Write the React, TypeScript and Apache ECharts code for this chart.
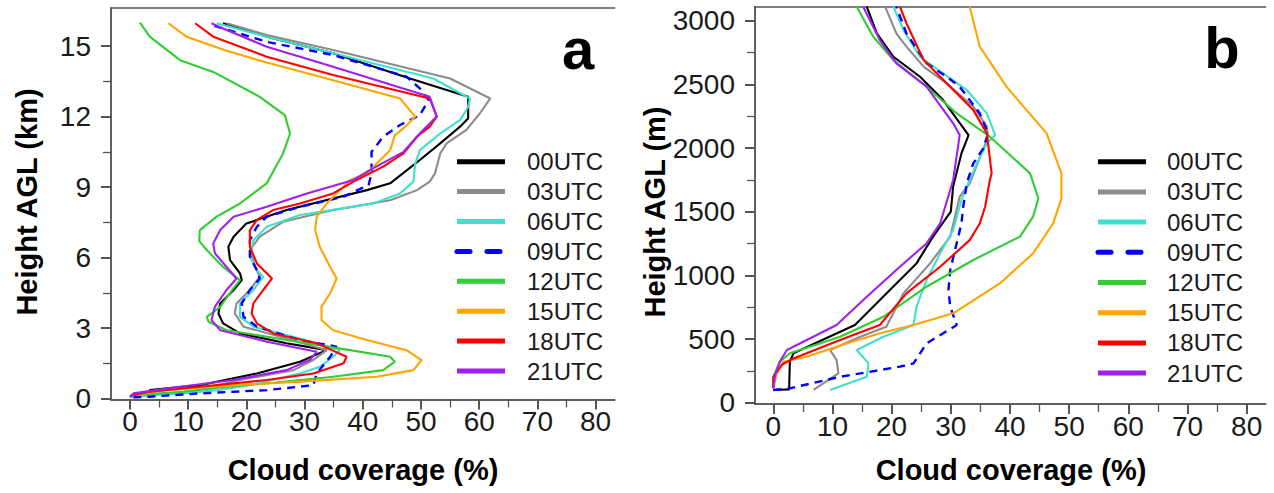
import React, { useEffect, useRef } from "react";
import * as echarts from "echarts";

// Sounding times and their line colours
const TIMES = ["00UTC", "03UTC", "06UTC", "09UTC", "12UTC", "15UTC", "18UTC", "21UTC"];
const COLORS = ["#000000", "#8c8c8c", "#40e0d0", "#0000ff", "#32cd32", "#ffa500", "#ff0000", "#a020f0"];

// Panel a: cloud coverage (%) vs height AGL (km), full troposphere
const a00: number[][] = [[0,0.08],[3.2,0.15],[3.4,0.36],[12.0,0.57],[21.8,1.07],[29.2,1.57],[33.8,2.06],[26.9,2.35],[18.9,2.77],[16.0,3.2],[15.2,3.62],[15.5,4.05],[17.8,4.62],[19.2,5.04],[18.9,5.33],[17.2,5.89],[16.9,6.46],[17.8,6.89],[20.0,7.45],[26.9,8.02],[40.7,8.87],[44.7,9.16],[49.8,10.15],[53.3,10.86],[56.7,11.57],[58.1,11.92],[58.1,12.84],[48.1,13.62],[34.9,14.69],[23.5,15.4],[16.0,15.97]];
const a03: number[][] = [[0,0.1],[2.5,0.18],[6.5,0.22],[11.0,0.32],[18.9,0.79],[28.1,1.21],[31.5,1.64],[33.8,2.06],[26.9,2.56],[19.5,3.06],[18.0,3.62],[18.3,4.05],[20.6,4.62],[22.3,5.18],[21.5,5.6],[20.6,6.32],[22.3,6.89],[26.3,7.52],[34.9,8.02],[44.7,8.44],[49.3,8.87],[51.5,9.23],[52.4,9.58],[53.3,10.43],[54.4,10.86],[57.8,11.43],[60.1,12.13],[61.9,12.77],[55.0,13.62],[34.9,14.83],[23.5,15.47],[16.6,15.97]];
const a06: number[][] = [[0,0.08],[9.2,0.22],[14.9,0.36],[20.6,0.57],[29.2,1.07],[32.6,1.35],[34.9,1.78],[36.1,2.06],[29.2,2.56],[21.2,3.06],[18.9,3.48],[18.9,4.05],[21.2,4.62],[22.9,5.18],[21.8,5.47],[20.6,6.04],[21.2,6.74],[23.5,7.31],[29.2,7.81],[41.8,8.3],[46.4,8.73],[48.7,9.23],[49.0,10.0],[49.8,10.57],[53.3,11.28],[56.7,11.85],[58.1,12.41],[58.4,12.77],[52.1,13.62],[34.9,14.69],[23.5,15.4],[14.9,15.97]];
const a09: number[][] = [[0.6,0.05],[3.4,0.08],[12.0,0.22],[23.5,0.36],[31.5,0.57],[32.1,1.07],[34.4,1.78],[35.5,2.21],[29.2,2.49],[21.8,3.06],[19.5,3.48],[19.2,4.05],[20.6,4.62],[22.3,5.11],[21.8,5.47],[20.6,6.04],[20.6,6.74],[21.8,7.31],[23.5,7.74],[29.2,8.16],[36.7,8.59],[41.0,9.09],[41.5,9.58],[41.5,10.5],[43.5,11.14],[46.4,11.64],[49.8,12.06],[51.3,12.7],[49.8,13.2],[47.5,13.7],[34.9,14.62],[23.5,15.18],[14.0,15.9]];
const a12: number[][] = [[0,0.08],[0.6,0.15],[9.2,0.29],[16.6,0.5],[24.6,0.67],[34.9,0.93],[43.5,1.21],[45.5,1.57],[44.7,1.78],[37.8,2.06],[26.9,2.49],[16.6,2.91],[13.5,3.27],[13.2,3.48],[15.5,3.9],[17.5,4.6],[18.9,5.04],[16.0,5.6],[13.2,6.32],[11.9,6.7],[12.0,7.17],[14.9,7.74],[18.9,8.3],[23.5,9.16],[26.3,10.43],[27.5,11.28],[26.6,12.06],[22.3,12.84],[14.3,13.9],[8.6,14.4],[3.4,15.4],[1.7,16.0]];
const a15: number[][] = [[0,0.1],[0.6,0.15],[6.3,0.36],[17.8,0.57],[29.2,0.72],[42.4,0.93],[48.7,1.21],[50.1,1.64],[47.5,2.06],[40.7,2.49],[34.9,2.91],[32.9,3.34],[32.9,3.91],[34.4,4.48],[35.5,5.11],[34.4,5.6],[32.6,6.46],[31.8,7.17],[32.1,7.74],[33.8,8.3],[36.1,8.87],[37.8,9.3],[40.7,9.58],[43.0,10.15],[44.7,10.57],[45.5,11.2],[47.3,11.57],[49.0,12.0],[46.4,12.77],[34.9,13.55],[23.5,14.3],[16.6,14.8],[9.7,15.4],[6.6,15.97]];
const a18: number[][] = [[0,0.1],[0.6,0.15],[3.4,0.29],[12.0,0.5],[23.5,0.79],[31.5,1.07],[36.7,1.5],[37.2,1.78],[32.1,2.35],[24.6,2.77],[21.8,3.2],[20.9,3.62],[21.2,4.05],[22.9,4.62],[24.4,5.11],[23.5,5.33],[21.8,5.75],[20.6,6.46],[20.6,7.17],[21.8,7.6],[24.6,8.02],[29.2,8.3],[34.9,8.73],[38.4,9.23],[43.5,9.87],[47.0,10.43],[49.3,11.14],[51.5,11.57],[52.7,12.0],[51.5,12.77],[34.9,13.77],[23.5,14.55],[14.3,15.4],[11.2,15.97]];
const a21: number[][] = [[0,0.08],[0.6,0.22],[6.3,0.43],[17.8,0.79],[26.9,1.21],[30.9,1.64],[32.1,1.99],[23.5,2.42],[15.5,2.91],[14.0,3.34],[14.6,3.91],[16.6,4.62],[18.3,5.11],[16.6,5.6],[14.6,6.18],[14.3,6.6],[15.5,7.17],[17.8,7.74],[23.5,8.16],[30.4,8.73],[38.4,9.3],[41.2,9.72],[47.0,10.5],[49.8,11.28],[52.7,12.0],[51.5,12.84],[34.9,14.12],[23.5,14.97],[16.0,15.75],[14.0,15.97]];

// Panel b: cloud coverage (%) vs height AGL (m), lowest 3 km
const b00: number[][] = [[0,100],[2.7,105],[2.7,152],[2.8,322],[3.4,388],[13.8,610],[19.7,885],[24.2,1094],[27.0,1304],[30.0,1500],[30.4,1700],[31.8,1958],[33.0,2102],[28.7,2377],[24.8,2560],[20.3,2717],[17.5,2900],[15.8,3110]];
const b03: number[][] = [[6.8,100],[11.0,230],[10.7,335],[9.6,414],[14.7,518],[19.1,597],[22.0,859],[26.5,1094],[29.9,1304],[31.5,1618],[33.2,1723],[36.3,2089],[36.1,2168],[33.8,2325],[29.3,2508],[25.4,2639],[22.5,2796],[20.8,2900],[18.9,3110]];
const b06: number[][] = [[9.6,100],[15.8,204],[16.1,309],[14.1,414],[18.6,518],[23.7,610],[24.2,754],[25.9,963],[28.2,1173],[30.4,1356],[31.8,1592],[33.2,1749],[34.4,1880],[36.1,2036],[37.5,2102],[36.1,2272],[32.7,2456],[28.7,2586],[24.8,2717],[22.0,2927],[20.3,3110]];
const b09: number[][] = [[0,100],[2.8,113],[11.3,204],[21.4,283],[23.7,309],[25.9,466],[31.0,610],[29.9,754],[29.6,885],[29.9,1042],[31.8,1408],[32.1,1539],[32.7,1723],[33.8,1880],[35.5,1998],[36.3,2115],[34.9,2272],[31.5,2482],[29.3,2560],[25.9,2665],[22.5,2900],[20.8,3110]];
const b12: number[][] = [[0,113],[0,204],[1.1,322],[2.8,388],[11.3,518],[18.6,675],[25.9,911],[33.8,1121],[41.7,1304],[43.9,1461],[44.8,1605],[43.4,1801],[36.6,2089],[31.0,2272],[25.9,2482],[20.3,2691],[16.9,2874],[14.1,3110]];
const b15: number[][] = [[0,113],[0.6,230],[1.7,322],[5.6,361],[12.4,466],[18.0,545],[23.7,610],[30.4,702],[38.3,937],[43.9,1173],[47.3,1408],[48.7,1605],[48.7,1801],[46.2,2115],[39.4,2482],[34.9,2796],[33.2,3110]];
const b18: number[][] = [[0,113],[0,204],[1.5,300],[3.5,350],[11.3,492],[18.0,610],[22.5,859],[28.2,1068],[33.2,1277],[34.9,1408],[35.8,1539],[36.6,1749],[36.9,1801],[36.3,2036],[36.1,2115],[33.8,2298],[29.3,2508],[25.4,2691],[22.5,2980],[21.4,3110]];
const b21: number[][] = [[0,113],[0.3,217],[1.1,322],[2.3,414],[10.7,610],[15.8,832],[21.4,1068],[25.9,1251],[28.2,1408],[30.4,1749],[31.5,2102],[30.4,2194],[25.9,2482],[20.8,2665],[18.0,2848],[15.2,3110]];

const PANEL_A = [a00, a03, a06, a09, a12, a15, a18, a21];
const PANEL_B = [b00, b03, b06, b09, b12, b15, b18, b21];

// Tick positions
const X_TICKS = [0, 10, 20, 30, 40, 50, 60, 70, 80];
const X_MINOR = [5, 15, 25, 35, 45, 55, 65, 75];
const KM_TICKS = [0, 3, 6, 9, 12, 15];
const KM_MINOR = [1.5, 4.5, 7.5, 10.5, 13.5];
const M_TICKS = [0, 500, 1000, 1500, 2000, 2500, 3000];
const M_MINOR = [250, 750, 1250, 1750, 2250, 2750];

const FONT = "'Liberation Sans', Arial, Helvetica, sans-serif";
const AXIS_COLOR = "#555555";
const TEXT_COLOR = "#1a1a1a";
const TICK_FONT = 28;
const plain = (v: number) => String(v);
const axisLine = { show: true, onZero: false, lineStyle: { color: AXIS_COLOR, width: 1.5 } };

function xAxesFor(gridIndex: number, min: number, max: number) {
  return [
    {
      type: "value", gridIndex, min, max, position: "bottom",
      axisLine,
      axisTick: { show: true, customValues: X_TICKS, length: 10, lineStyle: { color: AXIS_COLOR, width: 2 } },
      axisLabel: { show: true, customValues: X_TICKS, formatter: plain, fontSize: TICK_FONT, color: TEXT_COLOR, fontFamily: FONT, margin: 8 },
      splitLine: { show: false },
    },
    {
      // minor ticks, drawn on the same bottom edge
      type: "value", gridIndex, min, max, position: "bottom",
      axisLine,
      axisTick: { show: true, customValues: X_MINOR, length: 8, lineStyle: { color: AXIS_COLOR, width: 1.3 } },
      axisLabel: { show: false },
      splitLine: { show: false },
    },
    {
      type: "value", gridIndex, min, max, position: "top",
      axisLine,
      axisTick: { show: false }, axisLabel: { show: false }, splitLine: { show: false },
    },
  ];
}

function yAxesFor(gridIndex: number, min: number, max: number, ticks: number[], minor: number[]) {
  return [
    {
      type: "value", gridIndex, min, max, position: "left",
      axisLine,
      axisTick: { show: true, customValues: ticks, length: 10, lineStyle: { color: AXIS_COLOR, width: 2 } },
      axisLabel: { show: true, customValues: ticks, formatter: plain, fontSize: TICK_FONT, color: TEXT_COLOR, fontFamily: FONT, margin: 20 },
      splitLine: { show: false },
    },
    {
      // minor ticks, drawn on the same left edge
      type: "value", gridIndex, min, max, position: "left",
      axisLine,
      axisTick: { show: true, customValues: minor, length: 8, lineStyle: { color: AXIS_COLOR, width: 1.3 } },
      axisLabel: { show: false },
      splitLine: { show: false },
    },
  ];
}

function seriesFor(panel: number[][][], xAxisIndex: number, yAxisIndex: number) {
  return panel.map((data, i) => ({
    type: "line",
    name: TIMES[i],
    xAxisIndex,
    yAxisIndex,
    data,
    symbol: "none",
    smooth: false,
    lineStyle: {
      color: COLORS[i],
      width: i === 3 ? 2.4 : 2.1,
      type: i === 3 ? [8, 6] : "solid",
    },
    z: 2,
  }));
}

function legendFor(lineX: number, textX: number, top: number, step: number) {
  const items: any[] = [];
  TIMES.forEach((t, i) => {
    const y = top + i * step;
    items.push({
      type: "line",
      shape: { x1: lineX, y1: y, x2: lineX + 48, y2: y },
      style: {
        stroke: COLORS[i],
        lineWidth: 5,
        lineDash: i === 3 ? [13, 17] : null,
        lineCap: i === 3 ? "round" : "butt",
      },
    });
    items.push({
      type: "text",
      x: textX,
      y,
      style: { text: t, fontSize: 24, fontFamily: FONT, fill: TEXT_COLOR, verticalAlign: "middle", align: "left" },
    });
  });
  return items;
}

function axisTitle(text: string, x: number, y: number, rotate = false) {
  return {
    type: "text",
    x, y,
    rotation: rotate ? Math.PI / 2 : 0,
    style: {
      text, fontSize: 29, fontWeight: "bold", fontFamily: FONT, fill: "#000",
      align: "center", verticalAlign: "middle",
    },
  };
}

function panelLetter(text: string, x: number, y: number) {
  return {
    type: "text", x, y,
    style: { text, fontSize: 58, fontWeight: "bold", fontFamily: FONT, fill: "#000", align: "center", verticalAlign: "middle" },
  };
}

export default function App() {
  const ref = useRef<HTMLDivElement>(null);

  useEffect(() => {
    if (!ref.current) return;
    const chart = echarts.init(ref.current, null, { renderer: "svg" });
    const option: any = {
      animation: false,
      backgroundColor: "#ffffff",
      grid: [
        { left: 111, top: 8, width: 503.6, height: 391.5 },
        { left: 755, top: 6.7, width: 510.6, height: 397.3 },
      ],
      xAxis: [...xAxesFor(0, -3.26, 83.26), ...xAxesFor(1, -3.09, 83.2)],
      yAxis: [
        ...yAxesFor(0, -0.04, 16.62, KM_TICKS, KM_MINOR),
        ...yAxesFor(1, -10, 3110, M_TICKS, M_MINOR),
      ],
      series: [...seriesFor(PANEL_A, 0, 0), ...seriesFor(PANEL_B, 3, 2)],
      graphic: [
        ...legendFor(457, 527, 161.7, 29.9),
        ...legendFor(1098, 1167, 161.7, 30.2),
        axisTitle("Cloud coverage (%)", 363, 470),
        axisTitle("Cloud coverage (%)", 1011, 470),
        axisTitle("Height AGL (km)", 27, 202, true),
        axisTitle("Height AGL (m)", 655, 212, true),
        panelLetter("a", 578, 48),
        panelLetter("b", 1222, 47),
      ],
    };
    chart.setOption(option);
    return () => chart.dispose();
  }, []);

  return (
    <div
      ref={ref}
      style={{ position: "absolute", left: 0, top: 0, width: 1274, height: 493, background: "#fff" }}
    />
  );
}
